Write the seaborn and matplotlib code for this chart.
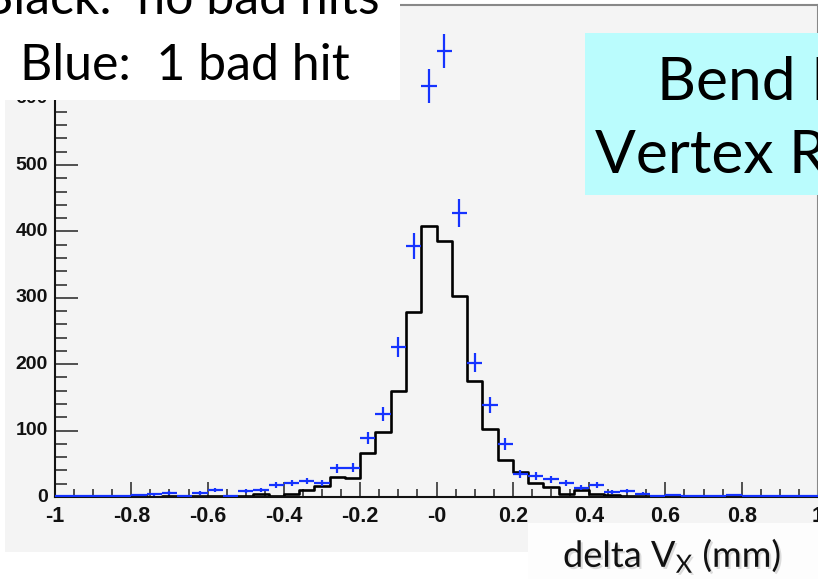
import numpy as np
import pandas as pd
import matplotlib
matplotlib.use("Agg")
import matplotlib.pyplot as plt
from matplotlib.patches import Rectangle
from matplotlib.ticker import MultipleLocator, FixedLocator
import matplotlib.patheffects as pe
import seaborn as sns

# ---------------- data ----------------
bin_edges = np.round(np.arange(-1.0, 1.0001, 0.04), 2)
bin_centers = np.round((bin_edges[:-1] + bin_edges[1:]) / 2, 2)

# black: no bad hits
counts_no_bad = [0, 0, 1, 0, 1, 1, 0, 1, 1, 2,
                 1, 2, 1, 4, 1, 5, 10, 16, 30, 28,
                 67, 98, 160, 279, 408, 385, 303, 174, 103, 55,
                 38, 21, 15, 4, 10, 4, 3, 2, 2, 1,
                 1, 1, 0, 1, 1, 0, 1, 0, 0, 0]
# blue: 1 bad hit
counts_one_bad = [1, 1, 1, 1, 2, 3, 4, 6, 2, 6,
                  10, 2, 9, 10, 18, 21, 24, 21, 43, 44,
                  89, 125, 226, 378, 619, 672, 428, 202, 139, 80,
                  35, 32, 27, 21, 14, 18, 8, 9, 5, 1,
                  3, 2, 2, 1, 3, 1, 2, 1, 2, 1]

x_tick_values = [-1, -0.8, -0.6, -0.4, -0.2, 0, 0.2, 0.4, 0.6, 0.8, 1]
x_tick_labels = ["-1", "-0.8", "-0.6", "-0.4", "-0.2", "-0", "0.2", "0.4", "0.6", "0.8", "1"]
y_tick_values = [0, 100, 200, 300, 400, 500, 600, 700]
y_tick_labels = ["0", "100", "200", "300", "400", "500", "600", "700"]

legend_line1 = "Black:  no bad hits"
legend_line2 = "Blue:  1 bad hit"
title_line1 = "Bend Plane"
title_line2 = "Vertex Resolution"
x_label = r"delta V$_{\mathregular{X}}$ (mm)"

df = pd.DataFrame({"center": bin_centers,
                   "no_bad": counts_no_bad,
                   "one_bad": counts_one_bad})

# ---------------- figure ----------------
sns.set_theme(style="white")
plt.rcParams["font.family"] = ["Lato", "DejaVu Sans"]

W, H = 818, 579
fig = plt.figure(figsize=(W / 100, H / 100), dpi=100, facecolor="white")

def fx(px):
    return px / W

def fy(py):
    return 1 - py / H

# ROOT pad background
fig.patches.append(Rectangle((fx(5), fy(552)), fx(813), (552 - 5) / H,
                             transform=fig.transFigure, facecolor="#f4f4f4",
                             edgecolor="none", zorder=-5))

ax = fig.add_axes([fx(55), fy(497), fx(818) - fx(55), (497 - 5) / H])
ax.set_zorder(1)
ax.set_facecolor("#f4f4f4")

# black step histogram
sns.histplot(data=df, x="center", weights="no_bad", binwidth=0.04,
             binrange=(-1, 1), element="step", fill=False, color="black",
             linewidth=1.9, ax=ax)

# blue crosses with Poisson errors
ax.errorbar(df["center"], df["one_bad"], xerr=0.02,
            yerr=np.sqrt(df["one_bad"]), fmt="none", ecolor="#1533ff",
            elinewidth=1.6, capsize=0, zorder=4)

ax.set_xlim(-1, 1)
ax.set_ylim(0, 741)
ax.set_xlabel("")
ax.set_ylabel("")

ax.xaxis.set_major_locator(FixedLocator(x_tick_values))
ax.xaxis.set_minor_locator(MultipleLocator(0.05))
ax.yaxis.set_major_locator(FixedLocator(y_tick_values))
ax.yaxis.set_minor_locator(MultipleLocator(20))

ax.tick_params(axis="both", which="both", direction="in", color="#222222",
               width=1.1, top=False, right=False, bottom=True, left=True,
               labelbottom=False, labelleft=False)
ax.tick_params(axis="x", which="major", length=11)
ax.tick_params(axis="x", which="minor", length=5.5)
ax.tick_params(axis="y", which="major", length=16.5)
ax.tick_params(axis="y", which="minor", length=8.5)

# ROOT-style bold tick labels placed at the tick values
tick_font = dict(family=["Liberation Sans", "DejaVu Sans"], fontweight="bold",
                 color="#111111", annotation_clip=False)
for v, s in zip(x_tick_values, x_tick_labels):
    ax.annotate(s, xy=(v, 0), xycoords=ax.get_xaxis_transform(),
                xytext=(0, -6.5), textcoords="offset points",
                ha="center", va="top", fontsize=15.5, **tick_font)
for v, s in zip(y_tick_values, y_tick_labels):
    ax.annotate(s, xy=(0, v), xycoords=ax.get_yaxis_transform(),
                xytext=(-5, 0), textcoords="offset points",
                ha="right", va="center", fontsize=14, **tick_font)

ax.spines["left"].set_color("#111111")
ax.spines["left"].set_linewidth(1.5)
ax.spines["bottom"].set_color("#111111")
ax.spines["bottom"].set_linewidth(1.5)
ax.spines["top"].set_color("#888888")
ax.spines["top"].set_linewidth(1.5)
ax.spines["right"].set_color("#888888")
ax.spines["right"].set_linewidth(1.5)

# overlay boxes
fig.patches.append(Rectangle((0, fy(100)), fx(400), 100 / H,
                             transform=fig.transFigure, facecolor="white",
                             edgecolor="none", zorder=5))
fig.patches.append(Rectangle((fx(585), fy(195)), fx(818 - 585), (195 - 33) / H,
                             transform=fig.transFigure, facecolor="#bafcfd",
                             edgecolor="none", zorder=5))
fig.patches.append(Rectangle((fx(528), 0), fx(818 - 528), (579 - 523) / H,
                             transform=fig.transFigure, facecolor="#fdfdfd",
                             edgecolor="none", zorder=5))

legend_style = dict(fontsize=36, color="black", va="baseline", zorder=6,
                    transform=fig.transFigure)
title_style = dict(fontsize=43.5, color="black", va="baseline", zorder=6,
                   transform=fig.transFigure)
fig.text(fx(380), fy(14), legend_line1, ha="right", **legend_style)
fig.text(fx(20), fy(80), legend_line2, ha="left", **legend_style)
fig.text(fx(657), fy(100), title_line1, ha="left", **title_style)
fig.text(fx(595), fy(173), title_line2, ha="left", **title_style)
fig.text(fx(563), fy(567), x_label, ha="left", va="baseline", fontsize=26,
         color="#111111", zorder=6, transform=fig.transFigure,
         path_effects=[pe.SimplePatchShadow(offset=(1.5, -1.5), alpha=0.25,
                                            shadow_rgbFace="#777777"),
                       pe.Normal()])

fig.savefig("out.png", dpi=100, facecolor="white")
